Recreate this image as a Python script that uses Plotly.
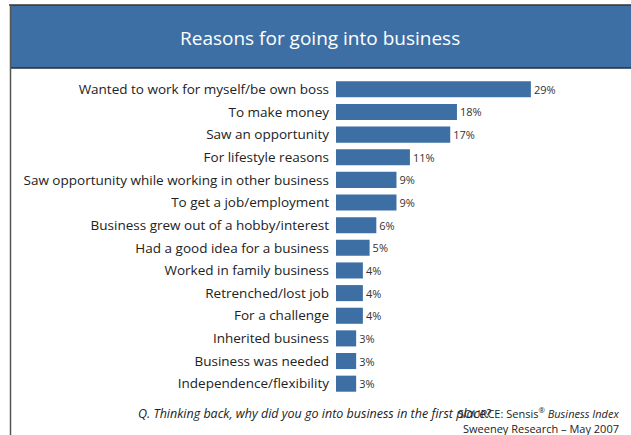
import plotly.graph_objects as go

# Survey responses: reasons for going into business (% of respondents)
reasons = [
    "Wanted to work for myself/be own boss",
    "To make money",
    "Saw an opportunity",
    "For lifestyle reasons",
    "Saw opportunity while working in other business",
    "To get a job/employment",
    "Business grew out of a hobby/interest",
    "Had a good idea for a business",
    "Worked in family business",
    "Retrenched/lost job",
    "For a challenge",
    "Inherited business",
    "Business was needed",
    "Independence/flexibility",
]
shares = [29, 18, 17, 11, 9, 9, 6, 5, 4, 4, 4, 3, 3, 3]
value_labels = [f"{v}%" for v in shares]

W, H = 631, 435
ML, MR, MT, MB = 336, 26, 78, 40
PW, PH = W - ML - MR, H - MT - MB

BLUE = "#3d6fa5"
FONT = "Open Sans, Noto Sans, sans-serif"


def px_x(p):
    return (p - ML) / PW


def px_y(p):
    return (H - MB - p) / PH


fig = go.Figure(
    go.Bar(
        x=shares,
        y=reasons,
        orientation="h",
        marker=dict(color=BLUE, line=dict(width=0)),
        text=value_labels,
        textposition="outside",
        textfont=dict(family=FONT, size=11, color="#333333"),
        cliponaxis=False,
        hoverinfo="skip",
    )
)

shapes = [
    # header band
    dict(type="rect", xref="paper", yref="paper",
         x0=px_x(10), x1=px_x(W + 2), y0=px_y(68), y1=px_y(5),
         fillcolor=BLUE, line=dict(width=0), layer="below"),
    dict(type="line", xref="paper", yref="paper",
         x0=px_x(9), x1=px_x(W + 2), y0=px_y(5), y1=px_y(5),
         line=dict(color="#333333", width=1.5)),
    dict(type="line", xref="paper", yref="paper",
         x0=px_x(10), x1=px_x(W + 2), y0=px_y(68), y1=px_y(68),
         line=dict(color="#1f2f45", width=1.5)),
    # left frame edge
    dict(type="line", xref="paper", yref="paper",
         x0=px_x(10.5), x1=px_x(10.5), y0=px_y(5), y1=px_y(H + 2),
         line=dict(color="#555555", width=1.5)),
]

annotations = [
    dict(text="Reasons for going into business", xref="paper", yref="paper",
         x=px_x(320), y=px_y(38), xanchor="center", yanchor="middle",
         showarrow=False, font=dict(family=FONT, size=19, color="white")),
    dict(text="<i>Q. Thinking back, why did you go into business in the first place?</i>",
         xref="paper", yref="paper", x=px_x(136), y=px_y(413),
         xanchor="left", yanchor="middle", showarrow=False,
         font=dict(family=FONT, size=12.5, color="#222222")),
    dict(text="SOURCE: Sensis<sup>®</sup> <i>Business Index</i>",
         xref="paper", yref="paper", x=px_x(621), y=px_y(413),
         xanchor="right", yanchor="middle", showarrow=False,
         font=dict(family=FONT, size=11, color="#222222")),
    dict(text="Sweeney Research – May 2007",
         xref="paper", yref="paper", x=px_x(621), y=px_y(428),
         xanchor="right", yanchor="middle", showarrow=False,
         font=dict(family=FONT, size=11, color="#222222")),
]

fig.update_layout(
    width=W,
    height=H,
    margin=dict(l=ML, r=MR, t=MT, b=MB, autoexpand=False),
    paper_bgcolor="white",
    plot_bgcolor="white",
    bargap=0.29,
    showlegend=False,
    shapes=shapes,
    annotations=annotations,
    xaxis=dict(range=[0, PW / 6.72], visible=False, fixedrange=True),
    yaxis=dict(
        autorange="reversed",
        showgrid=False,
        zeroline=False,
        showline=False,
        ticks="",
        ticklabelstandoff=6,
        tickfont=dict(family=FONT, size=13.5, color="#222222"),
        automargin=False,
        fixedrange=True,
    ),
)

fig.write_html("out.html")
